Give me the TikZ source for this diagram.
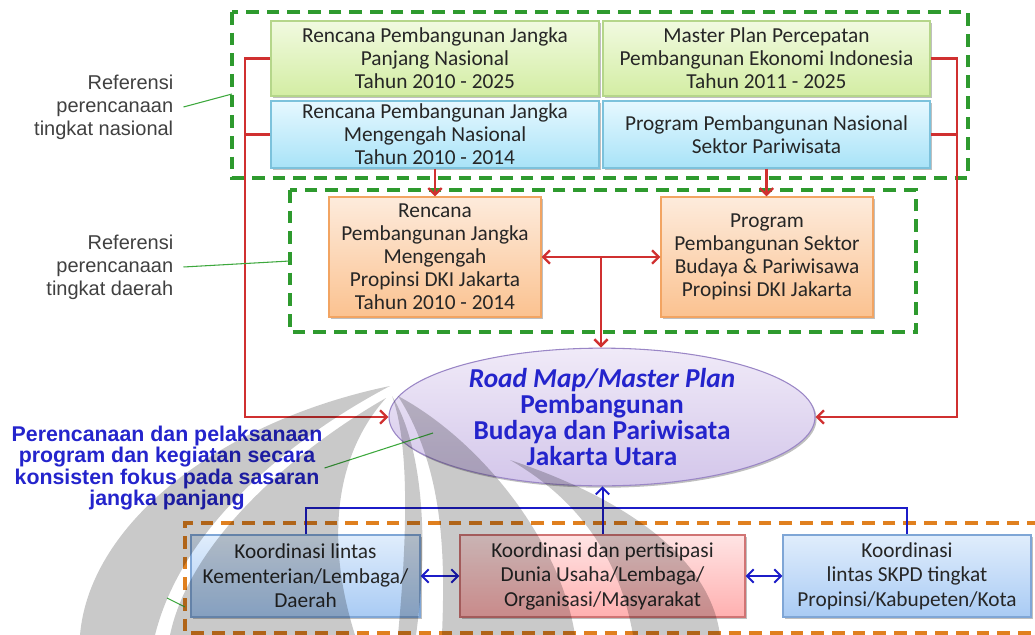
\documentclass[tikz,border=0pt]{standalone}
\usepackage{fontspec}
\setmainfont{Carlito}
\newfontfamily\arialfont{Liberation Sans}
\usetikzlibrary{arrows.meta,shapes.geometric,calc,shadows}

\definecolor{dashgreen}{HTML}{2E9A2E}
\definecolor{dashorange}{HTML}{E0801F}
\definecolor{leadgreen}{HTML}{3DA83D}
\definecolor{linkred}{HTML}{D03030}
\definecolor{linkblue}{HTML}{1C1CC8}
\definecolor{boxtext}{HTML}{262626}
\definecolor{labelgray}{HTML}{404040}
\definecolor{planblue}{HTML}{2424CC}
\definecolor{gTop}{HTML}{F1FAE0}
\definecolor{gBot}{HTML}{D3EDA3}
\definecolor{gBord}{HTML}{B5D68A}
\definecolor{cTop}{HTML}{E6F8FF}
\definecolor{cBot}{HTML}{A8E3F8}
\definecolor{cBord}{HTML}{7CC2DC}
\definecolor{oTop}{HTML}{FDEBDC}
\definecolor{oBot}{HTML}{FBC290}
\definecolor{oBord}{HTML}{F2A462}
\definecolor{pTop}{HTML}{F0EAF8}
\definecolor{pBot}{HTML}{D3C6EA}
\definecolor{pBord}{HTML}{9A86C6}
\definecolor{kTop}{HTML}{E0EDFC}
\definecolor{kBot}{HTML}{A9CBF4}
\definecolor{kBord}{HTML}{7FA6D6}
\definecolor{rTop}{HTML}{FFE4E4}
\definecolor{rBot}{HTML}{FFB0B0}
\definecolor{rBord}{HTML}{D07474}

\tikzset{
  wh/.style 2 args={minimum width=#1*0.75pt, minimum height=#2*0.75pt},
  box/.style={draw, line width=0.8pt, inner sep=0pt, align=center, text=boxtext,
    font=\fontsize{16}{17.3}\selectfont,
    drop shadow={shadow xshift=1.2pt, shadow yshift=-1.4pt, opacity=0.25, fill=black}},
  greenbox/.style={box, top color=gTop, bottom color=gBot, draw=gBord},
  cyanbox/.style={box, top color=cTop, bottom color=cBot, draw=cBord},
  orangebox/.style={box, top color=oTop, bottom color=oBot, draw=oBord},
  coordbox/.style={box, top color=kTop, bottom color=kBot, draw=kBord,
    font=\fontsize{16}{18.4}\selectfont},
  pinkbox/.style={box, top color=rTop, bottom color=rBot, draw=rBord,
    font=\fontsize{16}{18.4}\selectfont},
  planell/.style={ellipse, draw=pBord, line width=0.8pt, top color=pTop, bottom color=pBot,
    inner sep=0pt, align=center, text=planblue,
    font=\fontsize{20.5}{19.5}\selectfont\bfseries,
    drop shadow={shadow xshift=1.2pt, shadow yshift=-1.4pt, opacity=0.25, fill=black}},
  groupgreen/.style={draw=dashgreen, line width=2.3pt, dash pattern=on 9.5pt off 6pt},
  grouporange/.style={draw=dashorange, line width=2.3pt, dash pattern=on 9.5pt off 6pt},
  redline/.style={draw=linkred, line width=1.8pt},
  redarrow/.style={redline, -{Straight Barb[length=5pt,width=10pt]}},
  redboth/.style={redline, {Straight Barb[length=5pt,width=10pt]}-{Straight Barb[length=5pt,width=10pt]}},
  blueline/.style={draw=linkblue, line width=1.5pt},
  bluearrow/.style={blueline, -{Straight Barb[length=5pt,width=10pt]}},
  blueboth/.style={blueline, {Straight Barb[length=5pt,width=10pt]}-{Straight Barb[length=5pt,width=10pt]}},
  leader/.style={draw=leadgreen, line width=0.8pt},
  sidelabel/.style={align=right, text=labelgray, inner sep=7.5pt,
    font=\arialfont\fontsize{15}{17.25}\selectfont},
}

\begin{document}
\begin{tikzpicture}[x=0.75pt,y=-0.75pt]
\useasboundingbox (0,0) rectangle (1035,635);

% dashed groups
\draw[groupgreen] (232,12) rectangle (968,178);
\draw[groupgreen] (290,190) rectangle (916,332);
\draw[grouporange] (1040,523) -- (185,523) -- (185,633) -- (1040,633);

% national level plans
\node[greenbox, wh={328}{75}] (g1) at (435,58.5)
  {Rencana Pembangunan Jangka\\Panjang Nasional\\Tahun 2010 - 2025};
\node[greenbox, wh={327}{75}] (g2) at (766.5,58.5)
  {Master Plan Percepatan\\Pembangunan Ekonomi Indonesia\\Tahun 2011 - 2025};
\node[cyanbox, wh={328}{67}] (b1) at (435,134.5)
  {Rencana Pembangunan Jangka\\Mengengah Nasional\\Tahun 2010 - 2014};
\node[cyanbox, wh={327}{67}] (b2) at (766.5,134.5)
  {Program Pembangunan Nasional\\Sektor Pariwisata};

% regional level plans
\node[orangebox, wh={212}{120}] (o1) at (435,257)
  {Rencana\\Pembangunan Jangka\\Mengengah\\Propinsi DKI Jakarta\\Tahun 2010 - 2014};
\node[orangebox, wh={212}{120}] (o2) at (767,257)
  {Program\\Pembangunan Sektor\\Budaya \& Pariwisawa\\Propinsi DKI Jakarta};

% road map
\node[planell, wh={426}{128}] (ell) at (602,417)
  {\itshape Road Map/Master Plan\\Pembangunan\\Budaya dan Pariwisata\\Jakarta Utara};

% coordination boxes
\node[coordbox, wh={229}{82}] (k1) at (305.5,576)
  {Koordinasi lintas\\Kementerian/Lembaga/\\Daerah};
\node[pinkbox, wh={285}{82}] (k2) at (602.5,576)
  {Koordinasi dan pertisipasi\\Dunia Usaha/Lembaga/\\Organisasi/Masyarakat};
\node[coordbox, wh={248}{82}] (k3) at (907,576)
  {Koordinasi\\lintas SKPD tingkat\\Propinsi/Kabupeten/Kota};

% side labels
\node[sidelabel, anchor=east] (ref1) at (183.5,107)
  {Referensi\\perencanaan\\tingkat nasional};
\node[sidelabel, anchor=east] (ref2) at (183.5,267)
  {Referensi\\perencanaan\\tingkat daerah};
\node[align=center, text=planblue, inner sep=1.5pt,
  font=\arialfont\bfseries\fontsize{16}{14.8}\selectfont] (aim) at (167,468)
  {Perencanaan dan pelaksanaan\\program dan kegiatan secara\\konsisten fokus pada sasaran\\jangka panjang};

% red links
\coordinate (lspine) at (245,58);
\coordinate (rspine) at (957,58);
\draw[redarrow] (g1.west) -- (g1.west -| lspine) |- (ell.west);
\draw[redline] (b1.west) -- (b1.west -| lspine);
\draw[redarrow] (g2.east) -- (g2.east -| rspine) |- (ell.east);
\draw[redline] (b2.east) -- (b2.east -| rspine);
\draw[redarrow] (b1.south) -- (b1.south |- o1.north);
\draw[redarrow] (b2.south) -- (b2.south |- o2.north);
\draw[redboth] (o1.east) -- (o2.west);
\coordinate (omid) at ($(o1.east)!0.5!(o2.west)$);
\draw[redarrow] (omid) -- (omid |- ell.north);

% blue links
\coordinate (bus) at (602,508);
\draw[blueline] (k1.north) -- (k1.north |- bus) -- (k3.north |- bus) -- (k3.north);
\draw[bluearrow] (k2.north) -- (k2.north |- ell.south);
\draw[blueboth] (k1.east) -- (k2.west);
\draw[blueboth] (k2.east) -- (k3.west);

% leader lines
\coordinate (n1) at (232,94);
\coordinate (n2) at (290,261);
\coordinate (n3) at (433,433);
\coordinate (n4a) at (167,598);
\coordinate (n4b) at (185,607);
\draw[leader] (ref1.east) -- (n1);
\draw[leader] (ref2.east) -- (n2);
\draw[leader] (aim.east) -- (n3);
\draw[leader] (n4a) -- (n4b);

% faint emblem laid over the lower part
\fill[black, opacity=0.21]
  % outer left petal
  (80,635) .. controls (90,520) and (225,420) .. (390,386)
    .. controls (310,428) and (185,515) .. (155,635) -- cycle
  % inner left petal
  (170,635) .. controls (190,540) and (295,450) .. (386,398)
    .. controls (335,455) and (325,540) .. (355,635) -- cycle
  % narrow middle stroke
  (392,396) .. controls (412,450) and (405,560) .. (398,635)
    -- (416,635) .. controls (428,550) and (425,450) .. (392,396) -- cycle
  % broad middle petal
  (398,396) .. controls (445,470) and (445,560) .. (442,635)
    -- (575,635) .. controls (560,540) and (480,440) .. (398,396) -- cycle
  % right petal
  (510,460) .. controls (630,500) and (710,560) .. (720,635)
    -- (633,635) .. controls (620,560) and (580,500) .. (510,460) -- cycle;
\end{tikzpicture}
\end{document}
